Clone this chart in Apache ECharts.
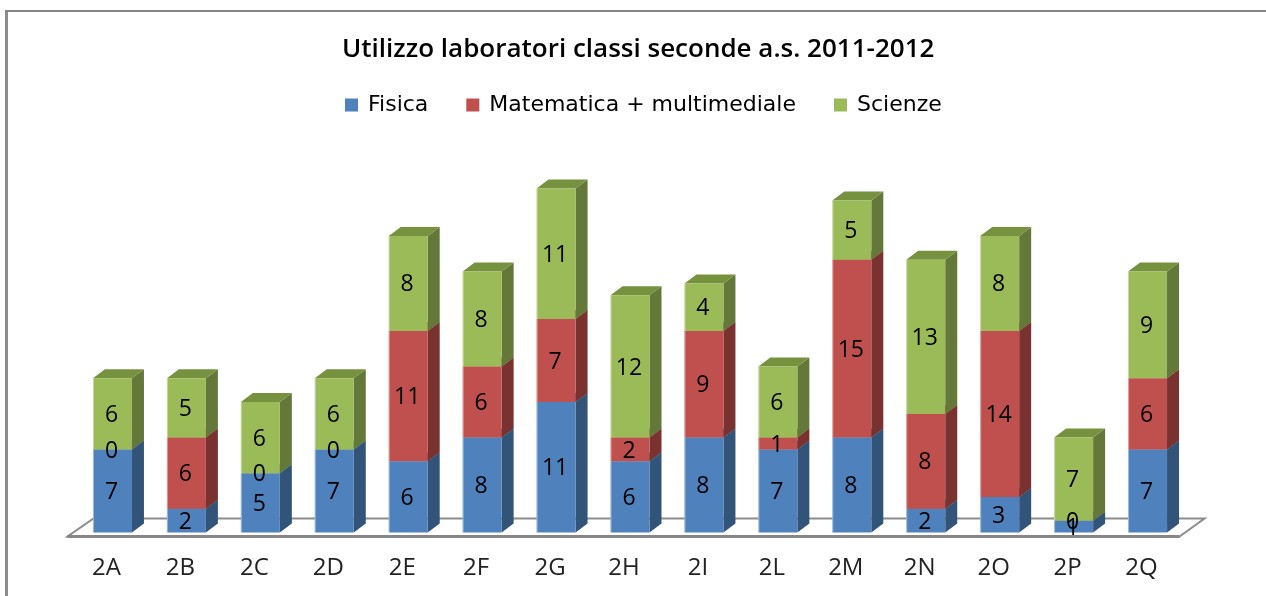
<!DOCTYPE html>
<html><head><meta charset="utf-8">
<style>html,body{margin:0;padding:0;background:#fff}#c{width:1266px;height:596px}</style>
<script src="https://cdn.jsdelivr.net/npm/echarts@6/dist/echarts.min.js"></script>
</head><body><div id="c"></div>
<script>
const categories = ['2A','2B','2C','2D','2E','2F','2G','2H','2I','2L','2M','2N','2O','2P','2Q'];
const fisica     = [7,2,5,7,6,8,11,6,8,7,8,2,3,1,7];
const matematica = [0,6,0,0,11,6,7,2,9,1,15,8,14,0,6];
const scienze    = [6,5,6,6,8,8,11,12,4,6,5,13,8,7,9];
const seriesNames = ['Fisica','Matematica + multimediale','Scienze'];

const faces = [
  {front:'#4F81BD', side:'#325479', top:'#3f6797'},
  {front:'#C0504D', side:'#7A3230', top:'#9a403e'},
  {front:'#9BBB59', side:'#64783A', top:'#76923F'}
];
const DX = 12, DY = 9, BAR = 39, SHIFT = 6;
const lists = [fisica, matematica, scienze];
const running = categories.map(() => 0);

function stackRows(vals) {
  return vals.map((v, i) => { const b = running[i]; running[i] += v; return [i, b, b + v, v]; });
}
function barBox(api) {
  const i = api.value(0), lo = api.value(1), hi = api.value(2);
  const pLo = api.coord([i, lo]), pHi = api.coord([i, hi]);
  const l = pLo[0] + SHIFT - BAR / 2;
  return {l, r: l + BAR, yb: pLo[1], yt: pHi[1]};
}
function barRenderer(f) {
  return function (params, api) {
    if (api.value(3) <= 0) return {type:'group', children:[]};
    const {l, r, yb, yt} = barBox(api);
    return {type:'group', children:[
      {type:'polygon', shape:{points:[[r,yt],[r+DX,yt-DY],[r+DX,yb-DY],[r,yb]]}, style:{fill:f.side}},
      {type:'polygon', shape:{points:[[l,yt],[l+DX,yt-DY],[r+DX,yt-DY],[r,yt]]}, style:{fill:f.top}},
      {type:'rect', shape:{x:l,y:yt,width:BAR,height:yb-yt}, style:{fill:f.front}},
      {type:'rect', shape:{x:l,y:yt,width:1,height:yb-yt}, style:{fill:'rgba(255,255,255,0.45)'}}
    ]};
  };
}
function labelRenderer(params, api) {
  const {l, yb, yt} = barBox(api);
  return {type:'text', style:{text:String(api.value(3)), x:l+BAR/2-1, y:(yb+yt)/2+1.5, align:'center', verticalAlign:'middle',
    font:'23px "Open Sans"', fill:'#000'}};
}
function floorRenderer(params, api) {
  const c = params.coordSys, y0 = c.y + c.height;
  const fy = y0 + 4, by = y0 - 14, lx = c.x - 2, rx = c.x + c.width + 1;
  return {type:'group', children:[
    {type:'polygon', shape:{points:[[lx,fy],[rx,fy],[rx+25,by],[lx+26,by]]}, style:{fill:'#fff', stroke:'#8C8C8C', lineWidth:2}},
    {type:'line', shape:{x1:lx,y1:fy,x2:rx,y2:fy}, style:{stroke:'#868686', lineWidth:3}}
  ]};
}

const rows = lists.map(stackRows);
const series = [{type:'custom', silent:true, z:1, coordinateSystem:'cartesian2d', renderItem:floorRenderer, data:[[0,0]], encode:{x:0,y:1}}];
seriesNames.forEach((n, k) => series.push({
  name:n, type:'custom', z:2+k, coordinateSystem:'cartesian2d', clip:false,
  renderItem:barRenderer(faces[k]), itemStyle:{color:faces[k].front},
  encode:{x:0, y:[1,2]}, data:rows[k]
}));
series.push({type:'custom', silent:true, z:10, coordinateSystem:'cartesian2d', clip:false,
  renderItem:labelRenderer, encode:{x:0, y:[1,2]}, data:rows[0].concat(rows[1], rows[2])});

const chart = echarts.init(document.getElementById('c'), null, {renderer:'canvas'});
chart.setOption({
  animation:false, backgroundColor:'#fff',
  title:{text:'Utilizzo laboratori classi seconde a.s. 2011-2012', left:342, top:37, padding:0,
    textStyle:{fontFamily:'"Open Sans"', fontSize:26, fontWeight:600, color:'#000'}},
  legend:{left:345, top:94, padding:0, itemWidth:13, itemHeight:13, itemGap:38, icon:'rect', data:seriesNames,
    textStyle:{fontFamily:'"DejaVu Sans"', fontSize:22, color:'#000', padding:[0,0,0,5]}},
  grid:{left:69.5, width:1109, top:176.7, height:355.8},
  xAxis:{type:'category', data:categories, boundaryGap:true, axisLine:{show:false}, axisTick:{show:false},
    axisLabel:{fontFamily:'"Open Sans"', fontSize:24, color:'#222', margin:24, interval:0}},
  yAxis:{type:'value', min:0, max:30, interval:5, show:false, splitLine:{show:false}},
  graphic:[
    {type:'rect', silent:true, shape:{x:5,y:10,width:3,height:586}, style:{fill:'#8C8C8C'}},
    {type:'rect', silent:true, shape:{x:5,y:10,width:1261,height:2}, style:{fill:'#868686'}}
  ],
  series
});
</script></body></html>
